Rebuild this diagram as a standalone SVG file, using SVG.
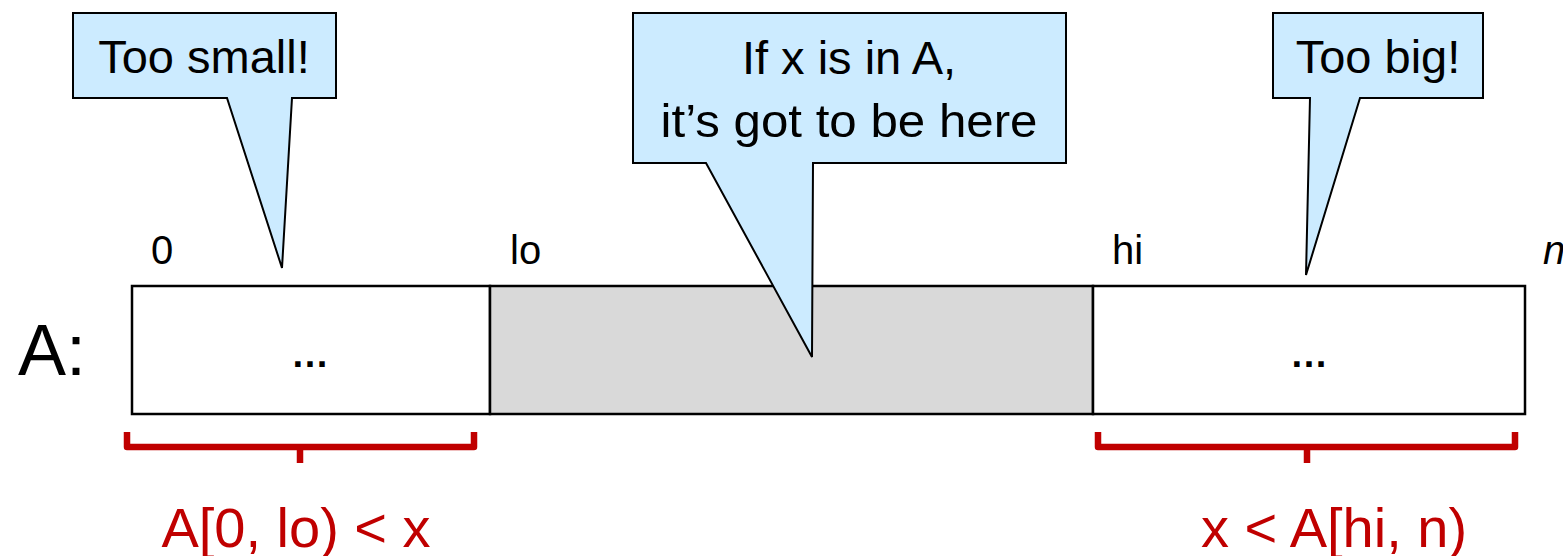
<svg xmlns="http://www.w3.org/2000/svg" width="1563" height="556" viewBox="0 0 1563 556">
<style>
.callout{fill:#CCEBFF;stroke:#000;stroke-width:2;stroke-linejoin:miter}
.ct{font-family:"Liberation Sans",Arial,sans-serif;font-size:47px;fill:#000;text-anchor:middle}
.idx{font-family:"Liberation Sans",Arial,sans-serif;font-size:40px;fill:#000}
.cell{stroke:#000;stroke-width:2.5}
.brace{fill:none;stroke:#C00000;stroke-width:6.5;stroke-linejoin:round;stroke-linecap:butt}
.red{font-family:"Liberation Sans",Arial,sans-serif;font-size:56px;fill:#C00000;text-anchor:middle}
.dots{font-family:"Liberation Sans",Arial,sans-serif;font-size:38px;font-weight:bold;fill:#000;text-anchor:middle}
</style>
<rect width="1563" height="556" fill="#fff"/>
<g id="array">
<rect class="cell" x="132" y="286" width="358" height="128" fill="#fff"/>
<rect class="cell" x="490" y="286" width="603" height="128" fill="#D9D9D9"/>
<rect class="cell" x="1093" y="286" width="432" height="128" fill="#fff"/>
<text class="dots" x="310" y="367">…</text>
<text class="dots" x="1309" y="367">…</text>
<text x="18" y="375" font-family="'Liberation Sans',Arial,sans-serif" font-size="72" fill="#000">A:</text>
</g>
<g id="indices">
<text class="idx" x="151" y="264">0</text>
<text class="idx" x="510" y="264">lo</text>
<text class="idx" x="1112" y="264">hi</text>
<text class="idx" x="1543" y="264" font-style="italic" font-size="42">n</text>
</g>
<g id="callout-small">
<path class="callout" d="M73,13 H336 V98 H292 L282,268 L227,98 H73 Z"/>
<text class="ct" x="204" y="73">Too small!</text>
</g>
<g id="callout-here">
<path class="callout" d="M633,13 H1066 V163 H813 L812,357 L706,163 H633 Z"/>
<text class="ct" x="849" y="74">If x is in A,</text>
<text class="ct" x="849" y="137" textLength="377" lengthAdjust="spacingAndGlyphs">it’s got to be here</text>
</g>
<g id="callout-big">
<path class="callout" d="M1273,13 H1483 V98 H1360 L1306,275 L1310,98 H1273 Z"/>
<text class="ct" x="1378" y="73">Too big!</text>
</g>
<g id="braces">
<path class="brace" d="M127,432 V447 H474 V432 M300,447 V463"/>
<path class="brace" d="M1098,432 V447 H1515 V432 M1307,447 V463"/>
</g>
<g id="labels">
<text class="red" x="296" y="547">A[0, lo) &lt; x</text>
<text class="red" x="1334" y="547">x &lt; A[hi, n)</text>
</g>
</svg>
